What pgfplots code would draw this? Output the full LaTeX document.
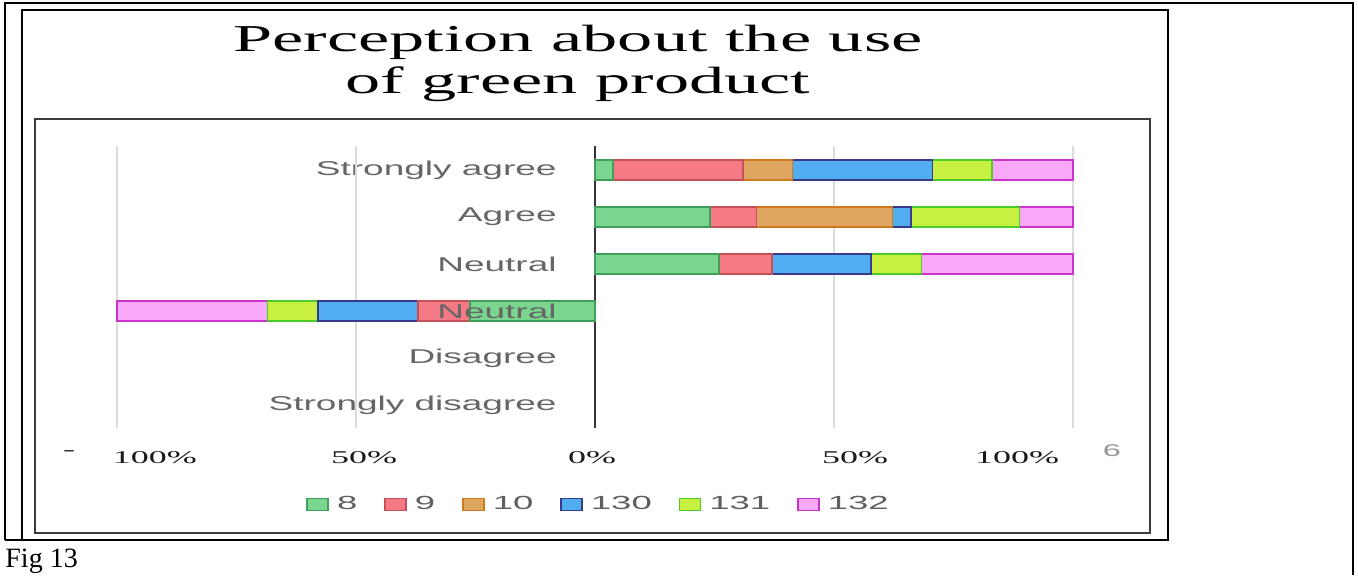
\documentclass[border=0pt]{standalone}
\usepackage{fontspec}
\setmainfont{Liberation Serif}
\newfontfamily\titlefont[FakeStretch=1.85]{Liberation Serif}
\newfontfamily\tickfont[FakeStretch=2.0]{Liberation Serif}
\newfontfamily\catfont[FakeStretch=1.85]{Liberation Sans}
\newfontfamily\legfont[FakeStretch=1.92]{Liberation Sans}
\usepackage{pgfplots}
\pgfplotsset{compat=1.18}
\usepackage{pgfplotstable}

\definecolor{f8}{HTML}{7AD68F}   \definecolor{d8}{HTML}{3F9F5A}
\definecolor{f9}{HTML}{F67A86}   \definecolor{d9}{HTML}{C4505A}
\definecolor{f10}{HTML}{DEA660}  \definecolor{d10}{HTML}{D07A20}
\definecolor{f130}{HTML}{52ACF0} \definecolor{d130}{HTML}{3A3A8A}
\definecolor{f131}{HTML}{C8F040} \definecolor{d131}{HTML}{4CCB2A}
\definecolor{f132}{HTML}{F8AAF8} \definecolor{d132}{HTML}{CC33CC}
\definecolor{gridcol}{HTML}{DCDCDC}
\definecolor{zerocol}{HTML}{3B3040}
\definecolor{catcol}{HTML}{666666}
\definecolor{legcol}{HTML}{5F5F5F}
\definecolor{tickcol}{HTML}{1A1A1A}
\definecolor{framecol}{HTML}{3C3C3C}

% row: 5 = Strongly agree (top), 0 = Strongly disagree (bottom)
\pgfplotstableread{
row v8 v9 v10 v130 v131 v132
5 3.8 27.2 10.3 29.3 12.4 17.0
4 24.1 9.7 28.4 3.9 22.7 11.2
3 26.0 11.0 0 20.7 10.6 31.7
2 -26.2 -10.8 0 -20.9 -10.6 -31.5
}\datatable

\begin{document}
\begin{tikzpicture}
\path (0pt,0pt) rectangle (679pt,-287.5pt);
% page / table frames
\draw[black, line width=1pt] (2.5pt,-270pt) -- (2.5pt,-1.5pt) -- (676.5pt,-1.5pt) -- (676.5pt,-287.5pt);
\draw[black, line width=1pt] (11pt,-5pt) rectangle (584pt,-270pt);
\draw[black, line width=1pt] (2.5pt,-270pt) -- (11pt,-270pt);
\draw[framecol, line width=1.1pt] (17.5pt,-59.5pt) rectangle (575pt,-266.5pt);
% title
\node[anchor=base, inner sep=0pt, font=\titlefont\fontsize{19}{22}\selectfont] at (289pt,-26pt) {Perception about the use};
\node[anchor=base, inner sep=0pt, font=\titlefont\fontsize{19}{22}\selectfont] at (289pt,-47pt) {of green product};
% caption
\node[anchor=base west, inner sep=0pt, font=\fontsize{14}{16}\selectfont] at (2.5pt,-283.5pt) {Fig 13};
% stray remnants of original labels
\node[inner sep=0pt, text=tickcol, font=\tickfont\fontsize{9}{10}\selectfont] at (34.5pt,-226.5pt) {-};
\node[inner sep=0pt, text=catcol!70, font=\legfont\fontsize{8.5}{9}\selectfont] at (556pt,-225.5pt) {6};

\begin{axis}[
  at={(58.5pt,-73.25pt)}, anchor=north west,
  scale only axis, width=478pt, height=141pt,
  xmin=-100, xmax=100, ymin=-0.5, ymax=5.5,
  clip=false,
  xbar stacked, bar width=10pt,
  axis line style={draw=none},
  major tick length=0pt,
  tick style={draw=none},
  xtick={-92.1,-48.3,-0.6,54.4,88.3},
  xticklabels={100\%,50\%,0\%,50\%,100\%},
  xticklabel style={font=\tickfont\fontsize{9}{10}\selectfont, text=tickcol, anchor=center, yshift=-14.5pt},
  extra x ticks={-100,-50,50,100},
  extra x tick labels={\empty,\empty,\empty,\empty},
  extra x tick style={grid=major, major grid style={draw=gridcol, line width=1pt}},
  ytick={0,1,2,3,4,5},
  yticklabels={Strongly disagree,Disagree,Neutral,Neutral,Agree,Strongly agree},
  yticklabel style={font=\catfont\fontsize{10}{12}\selectfont, text=catcol, anchor=east, inner sep=0pt, xshift=220pt},
  legend columns=6,
  legend style={at={(axis description cs:0.1977,-0.2695)}, anchor=west, draw=none, fill=none, inner sep=0pt,
    font=\legfont\fontsize{9.5}{11}\selectfont, text=legcol,
    /tikz/every even column/.append style={column sep=11.5pt}},
  legend image code/.code={\draw[#1, line width=0.8pt] (0pt,-3pt) rectangle (10.5pt,3pt); \path (12.5pt,0pt);},
]
\addplot[fill=f8, draw=d8, line width=0.8pt] table[x=v8, y=row]{\datatable};
\addplot[fill=f9, draw=d9, line width=0.8pt] table[x=v9, y=row]{\datatable};
\addplot[fill=f10, draw=d10, line width=0.8pt] table[x=v10, y=row]{\datatable};
\addplot[fill=f130, draw=d130, line width=0.8pt] table[x=v130, y=row]{\datatable};
\addplot[fill=f131, draw=d131, line width=0.8pt] table[x=v131, y=row]{\datatable};
\addplot[fill=f132, draw=d132, line width=0.8pt] table[x=v132, y=row]{\datatable};
\legend{8,9,10,130,131,132}
\draw[zerocol, line width=1pt] (axis cs:0,-0.5) -- (axis cs:0,5.5);
\coordinate (neutlab) at (axis cs:0,2);
\end{axis}
% the category label that sits over the negative bar is printed on top of it
\node[anchor=east, inner sep=0pt, text=catcol, font=\catfont\fontsize{10}{12}\selectfont] at ([xshift=-19pt]neutlab) {Neutral};
\end{tikzpicture}
\end{document}
